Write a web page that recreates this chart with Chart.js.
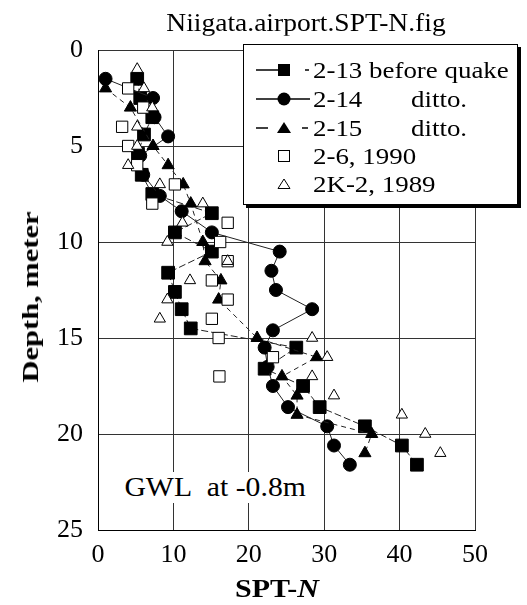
<!DOCTYPE html>
<html>
<head>
<meta charset="utf-8">
<script src="https://cdn.jsdelivr.net/npm/chart.js@4.4.1/dist/chart.umd.min.js"></script>
<style>
    body { margin: 0; background: #fff; }
    #wrap { position: relative; width: 527px; height: 605px; font-family: "Liberation Serif", "Times New Roman", serif; color: #000; }
    #chart { position: absolute; left: 0; top: 0; }
    .txt { position: absolute; white-space: nowrap; line-height: 1; }
    #title { left: 306px; top: 22px; font-size: 25px; transform: translate(-50%, -50%) scaleX(1.1); }
    #ytitle { left: 30px; top: 297px; font-size: 24px; font-weight: bold; transform: translate(-50%, -50%) rotate(-90deg) scaleX(1.27); }
    #xtitle { left: 277px; top: 588px; font-size: 25px; font-weight: bold; transform: translate(-50%, -50%) scaleX(1.2); }
    #gwl { left: 120px; top: 472px; font-size: 27px; background: #fff; padding: 2px 4px; transform-origin: left center; transform: scaleX(1.1); }
    #legend { position: absolute; left: 243px; top: 44px; width: 273px; height: 159px; background: #fff; border: 1px solid #000; box-shadow: 3px 3px 0 #000; }
    #legend svg { position: absolute; left: 0; top: 0; }
    .lg { position: absolute; font-size: 23px; transform-origin: left center; transform: translateY(-50%) scaleX(1.17); white-space: nowrap; line-height: 1; }
</style>
</head>
<body>
<div id="wrap">
    <canvas id="chart" width="527" height="605"></canvas>
    <div class="txt" id="title">Niigata.airport.SPT-N.fig</div>
    <div class="txt" id="ytitle">Depth, meter</div>
    <div class="txt" id="xtitle">SPT-<i>N</i></div>
    <div class="txt" id="gwl">GWL&nbsp;&nbsp;at -0.8m</div>
    <div id="legend">
        <svg width="273" height="159">
            <!-- row 1: 2-13 -->
            <line x1="12" y1="25" x2="34" y2="25" stroke="#000" stroke-width="1.5"/>
            <rect x="34" y="19" width="12" height="12" fill="#000"/>
            <line x1="61" y1="25" x2="65" y2="25" stroke="#000" stroke-width="1.5"/>
            <!-- row 2: 2-14 -->
            <line x1="12" y1="54" x2="66" y2="54" stroke="#000" stroke-width="1.5"/>
            <circle cx="40" cy="54" r="6.5" fill="#000"/>
            <!-- row 3: 2-15 -->
            <line x1="12" y1="83" x2="24" y2="83" stroke="#000" stroke-width="1.5"/>
            <polygon points="40,77 47,88 33,88" fill="#000"/>
            <line x1="58" y1="83" x2="64" y2="83" stroke="#000" stroke-width="1.5"/>
            <!-- row 4: 2-6 -->
            <rect x="34.5" y="105.5" width="11" height="11" fill="#fff" stroke="#000" stroke-width="1"/>
            <!-- row 5: 2K-2 -->
            <polygon points="40,134 46,143.5 34,143.5" fill="#fff" stroke="#000" stroke-width="1"/>
        </svg>
        <span class="lg" style="left:69px; top:25px;">2-13 before quake</span>
        <span class="lg" style="left:69px; top:54px;">2-14</span>
        <span class="lg" style="left:167px; top:54px;">ditto.</span>
        <span class="lg" style="left:69px; top:83px;">2-15</span>
        <span class="lg" style="left:167px; top:83px;">ditto.</span>
        <span class="lg" style="left:69px; top:111px;">2-6, 1990</span>
        <span class="lg" style="left:69px; top:139px;">2K-2, 1989</span>
    </div>
</div>
<script>
// SPT-N profiles (depth in m, N blows)

// 2-13 before quake
const depth213 = [1.5, 2.5, 3.5, 4.4, 5.4, 6.5, 7.5, 8.5, 9.5, 10.5, 11.6, 12.6, 13.5, 14.5, 15.5, 16.6, 17.5, 18.6, 19.6, 20.6, 21.6];
const n213     = [5.2, 5.6, 7.2, 6.1, 5.3, 5.8, 7.2, 15.1, 10.2, 15.1, 9.3, 10.2, 11.1, 12.3, 26.3, 22.1, 27.2, 29.4, 35.4, 40.3, 42.3];

// 2-14 ditto.
const depth214 = [1.5, 2.5, 3.5, 4.5, 5.5, 6.5, 7.6, 8.4, 9.5, 10.5, 11.5, 12.5, 13.5, 14.6, 15.5, 16.5, 17.5, 18.6, 19.6, 20.6, 21.6];
const n214     = [1.0, 7.3, 7.5, 9.3, 5.6, 6.0, 8.2, 11.1, 15.1, 24.1, 23.0, 23.6, 28.4, 23.2, 22.1, 22.5, 23.2, 25.2, 30.4, 31.3, 33.4];

// 2-15 ditto.
const depth215 = [2.0, 3.0, 5.0, 6.0, 7.0, 8.0, 10.0, 11.0, 12.0, 13.0, 15.0, 16.0, 17.0, 18.0, 19.0, 20.0, 21.0];
const n215     = [1.0, 4.3, 7.3, 9.3, 11.3, 12.3, 13.9, 14.2, 16.3, 16.0, 21.1, 29.0, 24.4, 26.4, 26.4, 36.3, 35.4];

// 2-6, 1990
const depth1990 = [2.0, 3.0, 4.0, 5.0, 6.0, 7.0, 8.0, 9.0, 10.0, 11.0, 12.0, 13.0, 14.0, 15.0, 16.0, 17.0];
const n1990     = [4.0, 6.0, 3.2, 4.0, 5.2, 10.2, 7.2, 17.2, 16.2, 17.2, 15.1, 17.2, 15.1, 16.0, 23.2, 16.1];

// 2K-2, 1989
const depth1989 = [1.0, 2.0, 3.0, 4.0, 5.0, 6.0, 7.0, 8.0, 9.0, 10.0, 11.0, 12.0, 13.0, 14.0, 15.0, 16.0, 17.0, 18.0, 19.0, 20.0, 21.0];
const n1989     = [5.2, 6.1, 7.2, 5.2, 5.2, 4.0, 8.2, 13.9, 11.2, 9.2, 17.2, 12.2, 9.2, 8.2, 28.4, 30.4, 28.4, 31.3, 40.3, 43.4, 45.4];

const xTicks = [0, 10, 20, 30, 40, 50];
const yTicks = [0, 5, 10, 15, 20, 25];

function toPoints(nValues, depths) {
    return nValues.map((n, i) => ({ x: n, y: depths[i] }));
}

const datasets = [
    {
        label: '2K-2, 1989',
        data: toPoints(n1989, depth1989),
        showLine: false,
        pointStyle: 'triangle',
        pointRadius: 6.5,
        backgroundColor: '#fff',
        borderColor: '#000',
        borderWidth: 1,
        order: 0
    },
    {
        label: '2-6, 1990',
        data: toPoints(n1990, depth1990),
        showLine: false,
        pointStyle: 'rect',
        pointRadius: 8,
        backgroundColor: '#fff',
        borderColor: '#000',
        borderWidth: 1,
        order: 1
    },
    {
        label: '2-15 ditto.',
        data: toPoints(n215, depth215),
        showLine: true,
        borderDash: [5, 4],
        borderColor: '#222',
        borderWidth: 1,
        pointStyle: 'triangle',
        pointRadius: 7,
        pointBackgroundColor: '#000',
        pointBorderColor: '#000',
        order: 2
    },
    {
        label: '2-14 ditto.',
        data: toPoints(n214, depth214),
        showLine: true,
        borderColor: '#222',
        borderWidth: 1,
        pointStyle: 'circle',
        pointRadius: 6.5,
        pointBackgroundColor: '#000',
        pointBorderColor: '#000',
        order: 3
    },
    {
        label: '2-13 before quake',
        data: toPoints(n213, depth213),
        showLine: true,
        borderDash: [7, 3],
        borderColor: '#222',
        borderWidth: 1,
        pointStyle: 'rect',
        pointRadius: 9,
        pointBackgroundColor: '#000',
        pointBorderColor: '#000',
        order: 4
    }
];

const tickFont = { family: '"Liberation Serif", "Times New Roman", serif', size: 26 };

new Chart(document.getElementById('chart'), {
    type: 'scatter',
    data: { datasets: datasets },
    options: {
        responsive: false,
        animation: false,
        layout: { padding: { left: 0, top: 50, right: 52, bottom: 0 } },
        plugins: {
            legend: { display: false },
            tooltip: { enabled: false }
        },
        scales: {
            x: {
                type: 'linear',
                min: xTicks[0],
                max: xTicks[xTicks.length - 1],
                afterBuildTicks: scale => { scale.ticks = xTicks.map(v => ({ value: v })); },
                afterFit: scale => { scale.height = 75; },
                ticks: { font: tickFont, color: '#000', padding: 10, maxRotation: 0 },
                grid: { color: '#333', lineWidth: 1, drawTicks: false },
                border: { color: '#000', width: 1 }
            },
            y: {
                type: 'linear',
                reverse: true,
                min: yTicks[0],
                max: yTicks[yTicks.length - 1],
                afterBuildTicks: scale => { scale.ticks = yTicks.map(v => ({ value: v })); },
                afterFit: scale => { scale.width = 98; },
                ticks: { font: tickFont, color: '#000', padding: 15 },
                grid: { color: '#333', lineWidth: 1, drawTicks: false },
                border: { color: '#000', width: 1 }
            }
        }
    }
});
</script>
</body>
</html>
